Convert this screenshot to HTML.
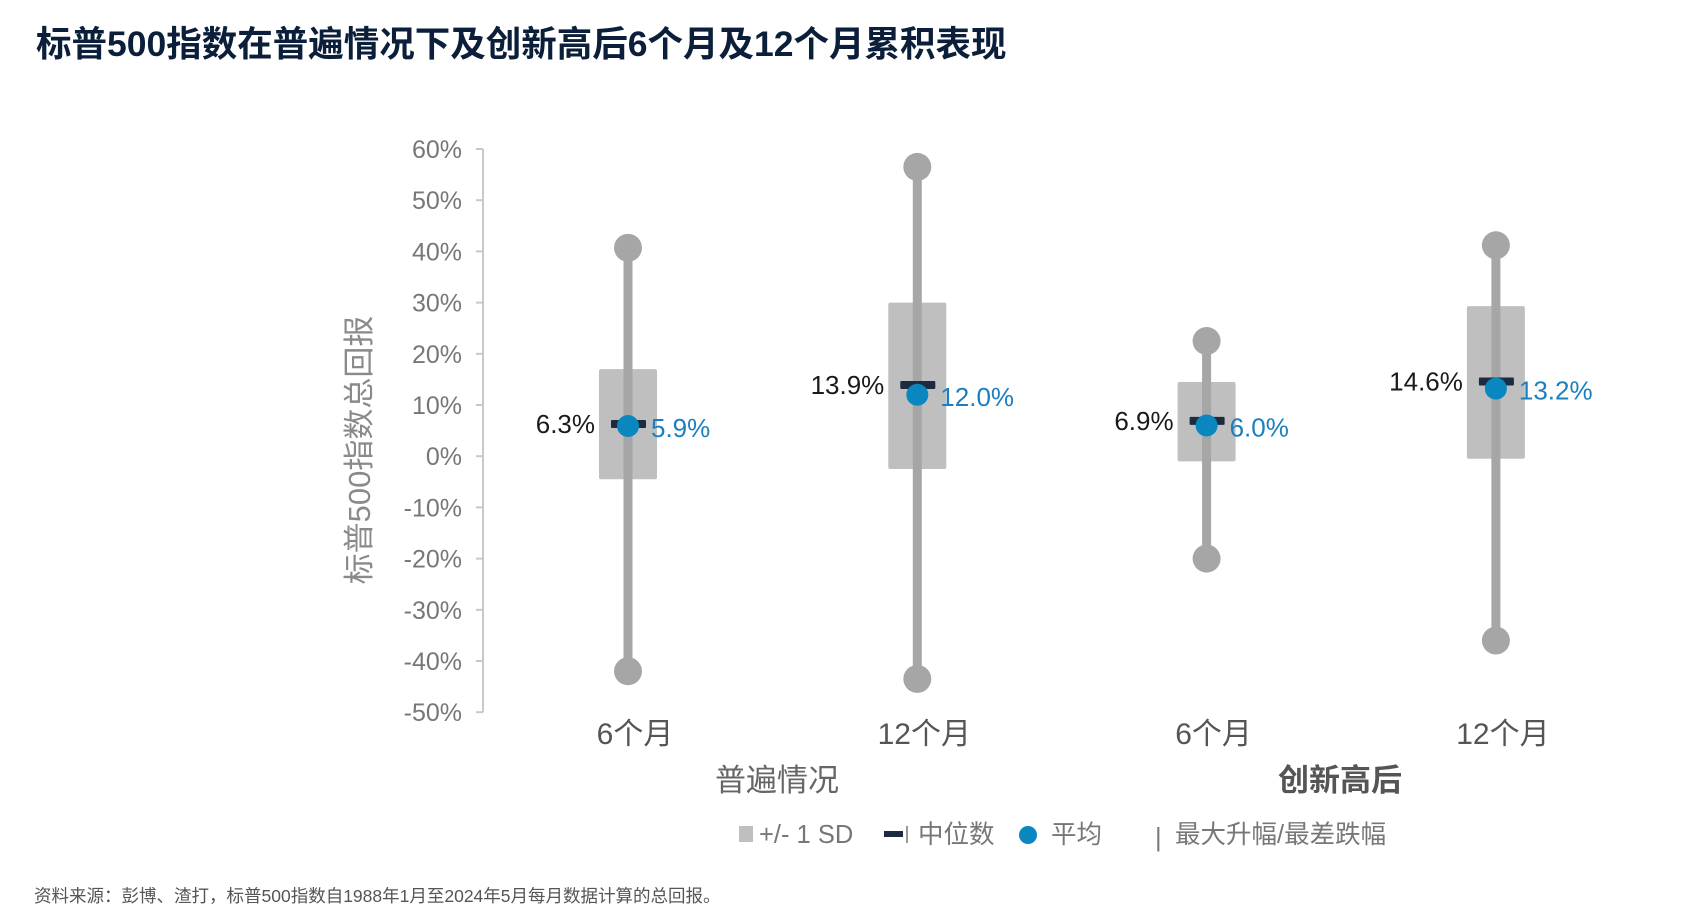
<!DOCTYPE html>
<html><head><meta charset="utf-8">
<style>
body{margin:0;background:#fff;}
svg{display:block;font-family:"Liberation Sans","Noto Sans CJK SC",sans-serif;}
</style></head>
<body>
<svg id="chart" width="1686" height="918" viewBox="0 0 1686 918">
<text x="36" y="56" font-size="35.5" font-weight="bold" fill="#0b1f3a">标普500指数在普遍情况下及创新高后6个月及12个月累积表现</text>
<g id="axis"></g>
<g id="marks"></g>
<text transform="translate(370,450) rotate(-90)" text-anchor="middle" font-size="31" fill="#8a8a8a">标普500指数总回报</text>
<text x="777" y="791" text-anchor="middle" font-size="31" fill="#666">普遍情况</text>
<text x="1340" y="791" text-anchor="middle" font-size="31" font-weight="bold" fill="#555">创新高后</text>
<g font-size="25.5" fill="#777">
<rect x="739" y="826" width="14" height="16" fill="#bfbfbf"/>
<text x="759" y="843">+/- 1 SD</text>
<rect x="884" y="831" width="19" height="6" fill="#1c2b3f"/>
<rect x="906" y="826" width="2" height="17" fill="#999"/>
<text x="918" y="843">中位数</text>
<circle cx="1028" cy="835" r="9" fill="#0a87be"/>
<text x="1051" y="843">平均</text>
<text x="1155" y="846">|</text>
<text x="1175" y="843">最大升幅/最差跌幅</text>
</g>
<text x="34" y="902" font-size="17.5" fill="#555">资料来源：彭博、渣打，标普500指数自1988年1月至2024年5月每月数据计算的总回报。</text>
</svg>
<script>
const categories=["6个月","12个月","6个月","12个月"];
const maxVals=[40.7,56.5,22.5,41.2];
const minVals=[-42,-43.5,-20,-36];
const sdHigh=[17,30,14.5,29.3];
const sdLow=[-4.5,-2.5,-1,-0.5];
const medians=[6.3,13.9,6.9,14.6];
const means=[5.9,12.0,6.0,13.2];
const yTicks=[60,50,40,30,20,10,0,-10,-20,-30,-40,-50];
const NS="http://www.w3.org/2000/svg";
const y=v=>456.2-v*5.12;
const x=i=>628+i*289.3;
function mk(tag,attrs,parent,txt){const e=document.createElementNS(NS,tag);for(const k in attrs)e.setAttribute(k,attrs[k]);if(txt!==undefined)e.textContent=txt;parent.appendChild(e);return e;}
const ax=document.getElementById('axis'),mg=document.getElementById('marks');
let a=mk('line',{x1:483,x2:483,y1:y(60),y2:y(-50),stroke:'#c8c8c8','stroke-width':2},ax);


yTicks.forEach(t=>{
 let l=mk('line',{x1:476,x2:483,y1:y(t),y2:y(t),stroke:'#c8c8c8','stroke-width':2},ax);
 
 
 let tx=mk('text',{x:462,y:y(t)+9,'text-anchor':'end','font-size':25,fill:'#777'},ax,t+'%');
 
 
});
categories.forEach((c,i)=>{
 const cx=x(i);
 let b=mk('rect',{x:cx-29,y:y(sdHigh[i]),width:58,height:y(sdLow[i])-y(sdHigh[i]),fill:'#bfbfbf',rx:2},mg);
 
 
 let w=mk('line',{x1:cx,x2:cx,y1:y(maxVals[i]),y2:y(minVals[i]),stroke:'#a6a6a6','stroke-width':9},mg);
 
 
 let c1=mk('circle',{cx:cx,cy:y(maxVals[i]),r:14,fill:'#a6a6a6'},mg);
 
 
 let c2=mk('circle',{cx:cx,cy:y(minVals[i]),r:14,fill:'#a6a6a6'},mg);
 
 
 let m=mk('rect',{x:cx-17,y:y(medians[i])-4,width:35,height:8,fill:'#1c2b3f',rx:1},mg);
 
 
 let mc=mk('circle',{cx:cx,cy:y(means[i]),r:11,fill:'#0a87be'},mg);
 
 
 let ml=mk('text',{x:cx-33,y:y(medians[i])+9,'text-anchor':'end','font-size':26,fill:'#1a1a1a'},mg,medians[i].toFixed(1)+'%');
 
 
 let mn=mk('text',{x:cx+23,y:y(means[i])+11,'font-size':26,fill:'#1a7fc0'},mg,means[i].toFixed(1)+'%');
 
 
 let cl=mk('text',{x:cx+7,y:744,'text-anchor':'middle','font-size':30,fill:'#555'},mg,c);
 
 
});
</script>
</body></html>
